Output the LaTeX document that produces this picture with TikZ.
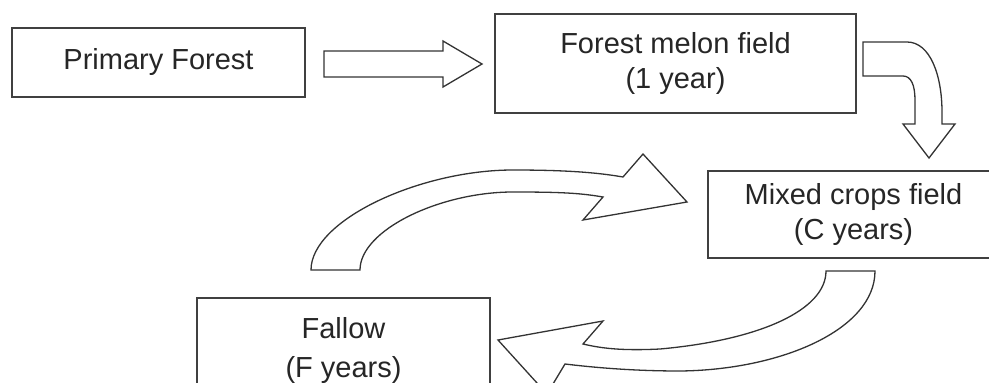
\documentclass[tikz,border=0pt]{standalone}
\usepackage{fontspec}
\setmainfont{Liberation Sans}
\begin{document}
\begin{tikzpicture}[x=1pt,y=-1pt,
  box/.style={draw=black!75, line width=1.5pt, fill=white, inner sep=0pt, align=center,
    text=black!85, font=\fontsize{29}{35}\selectfont},
  blockarrow/.style={draw=black!80, line width=1.3pt, fill=white, line join=miter}]
\useasboundingbox (0,0) rectangle (989,383);
\clip (0,0) rectangle (989,383);
% boxes
\node[box, minimum width=293pt, minimum height=69pt] (pf) at (158.5,62.5) {Primary Forest};
\node[box, minimum width=361pt, minimum height=99pt] (fm) at (675.5,63.5) {Forest melon field\\(1 year)};
\node[box, minimum width=291pt, minimum height=87pt] (mc) at (853.5,214.5) {Mixed crops field\\(C years)};
\node[box, minimum width=293pt, minimum height=104pt, font=\fontsize{29}{39}\selectfont] (fa) at (343.5,350) {Fallow\\(F years)};
% straight arrow
\draw[blockarrow] (324,51) -- (443,51) -- (443,41) -- (482,64) -- (443,87) -- (443,77) -- (324,77) -- cycle;
% bent arrow top right
\draw[blockarrow] (863,42) -- (907,42) .. controls (930,42) and (942,75) .. (942,112) -- (942,124)
  -- (955,124) -- (929,158) -- (903,124) -- (915,124) -- (915,100)
  .. controls (915,85) and (911,76) .. (903,76) -- (863,76) -- cycle;
% middle curved arrow (Fallow -> Mixed crops)
\draw[blockarrow] (311,270) .. controls (311,220) and (420,170) .. (513,170)
  .. controls (570,170) and (600,173) .. (623,177) -- (643,154) -- (687,202) -- (583,220) -- (603,197)
  .. controls (580,193) and (560,192) .. (513,192)
  .. controls (440,192) and (360,230) .. (360,270) -- cycle;
% bottom curved arrow (Mixed crops -> Fallow)
\draw[blockarrow] (875,271) .. controls (875,330) and (780,370) .. (680,371)
  .. controls (630,371) and (590,367) .. (565,364) -- (547,394) -- (498,340) -- (603,321) -- (583,344)
  .. controls (600,348) and (620,351) .. (660,349)
  .. controls (760,340) and (826,310) .. (826,271) -- cycle;
\end{tikzpicture}
\end{document}
